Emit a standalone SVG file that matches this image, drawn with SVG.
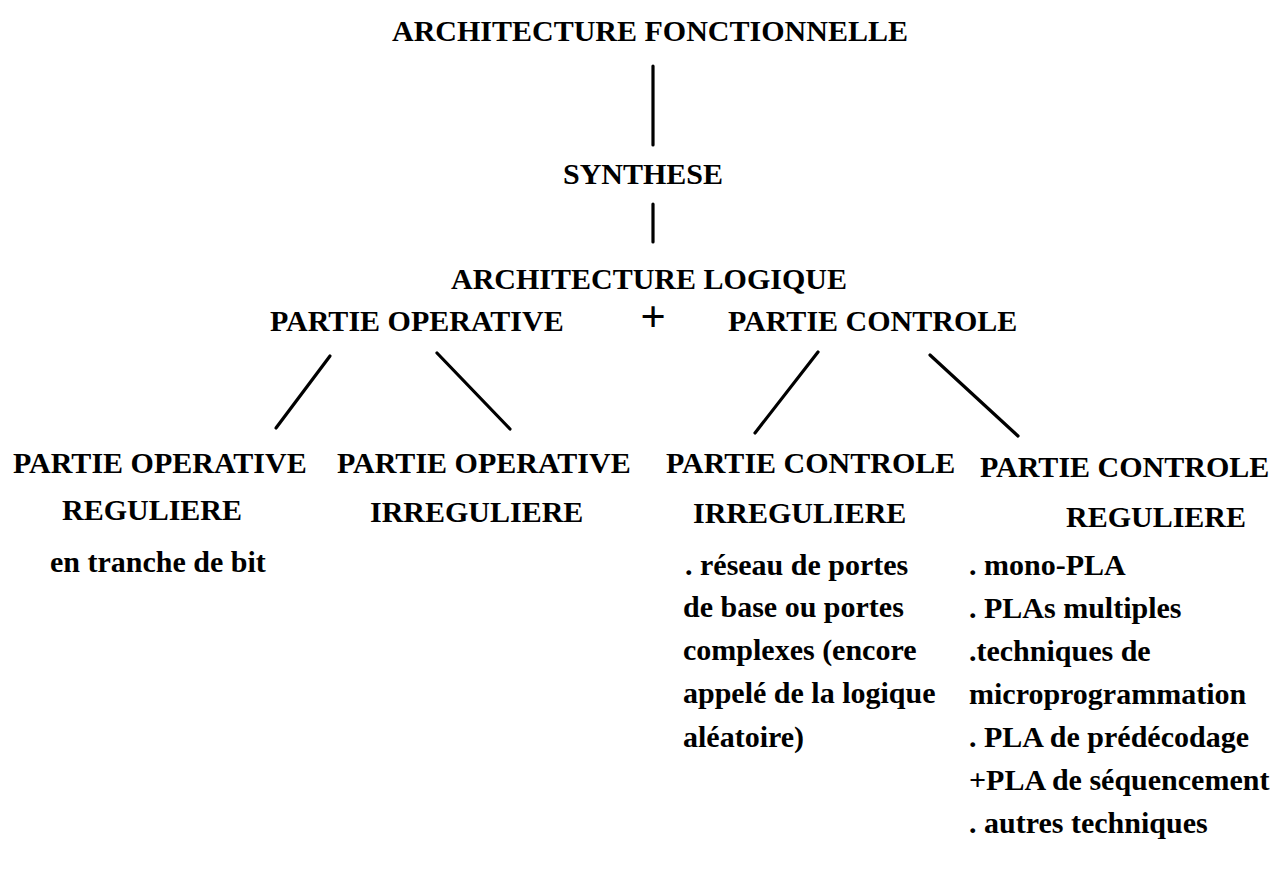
<svg xmlns="http://www.w3.org/2000/svg" width="1276" height="871" viewBox="0 0 1276 871">
<style>
text{font-family:"Liberation Serif","Times New Roman",serif;font-weight:bold;font-size:30px;fill:#000}
.plus{font-size:45px}
.c{stroke:#000;stroke-width:3.2;stroke-linecap:round;fill:none}
</style>
<rect width="1276" height="871" fill="#fff"/>
<g id="connectors">
<line class="c" x1="653" y1="66" x2="653" y2="145"/>
<line class="c" x1="653" y1="204" x2="653" y2="242"/>
<line class="c" x1="330" y1="356" x2="276" y2="428"/>
<line class="c" x1="437" y1="353" x2="510" y2="429"/>
<line class="c" x1="818" y1="352" x2="755" y2="433"/>
<line class="c" x1="930" y1="355" x2="1018" y2="436"/>
</g>
<g id="n-fonctionnelle"><text x="392" y="41">ARCHITECTURE FONCTIONNELLE</text></g>
<g id="n-synthese"><text x="563" y="184">SYNTHESE</text></g>
<g id="n-logique">
<text x="451" y="289">ARCHITECTURE LOGIQUE</text>
<text x="270" y="331">PARTIE OPERATIVE</text>
<text class="plus" x="653" y="331" text-anchor="middle">+</text>
<text x="728" y="331">PARTIE CONTROLE</text>
</g>
<g id="n-po-reg">
<text x="13" y="473">PARTIE OPERATIVE</text>
<text x="62" y="520">REGULIERE</text>
<text x="50" y="572">en tranche de bit</text>
</g>
<g id="n-po-irreg">
<text x="337" y="473">PARTIE OPERATIVE</text>
<text x="370" y="522">IRREGULIERE</text>
</g>
<g id="n-pc-irreg">
<text x="666" y="473">PARTIE CONTROLE</text>
<text x="693" y="523">IRREGULIERE</text>
<text x="685" y="575">. réseau de portes</text>
<text x="683" y="617">de base ou portes</text>
<text x="683" y="660">complexes (encore</text>
<text x="683" y="703">appelé de la logique</text>
<text x="683" y="747">aléatoire)</text>
</g>
<g id="n-pc-reg">
<text x="980" y="477">PARTIE CONTROLE</text>
<text x="1066" y="527">REGULIERE</text>
<text x="969" y="575">. mono-PLA</text>
<text x="969" y="618">. PLAs multiples</text>
<text x="969" y="661">.techniques de</text>
<text x="969" y="704">microprogrammation</text>
<text x="969" y="747">. PLA de prédécodage</text>
<text x="969" y="790">+PLA de séquencement</text>
<text x="969" y="833">. autres techniques</text>
</g>
</svg>
